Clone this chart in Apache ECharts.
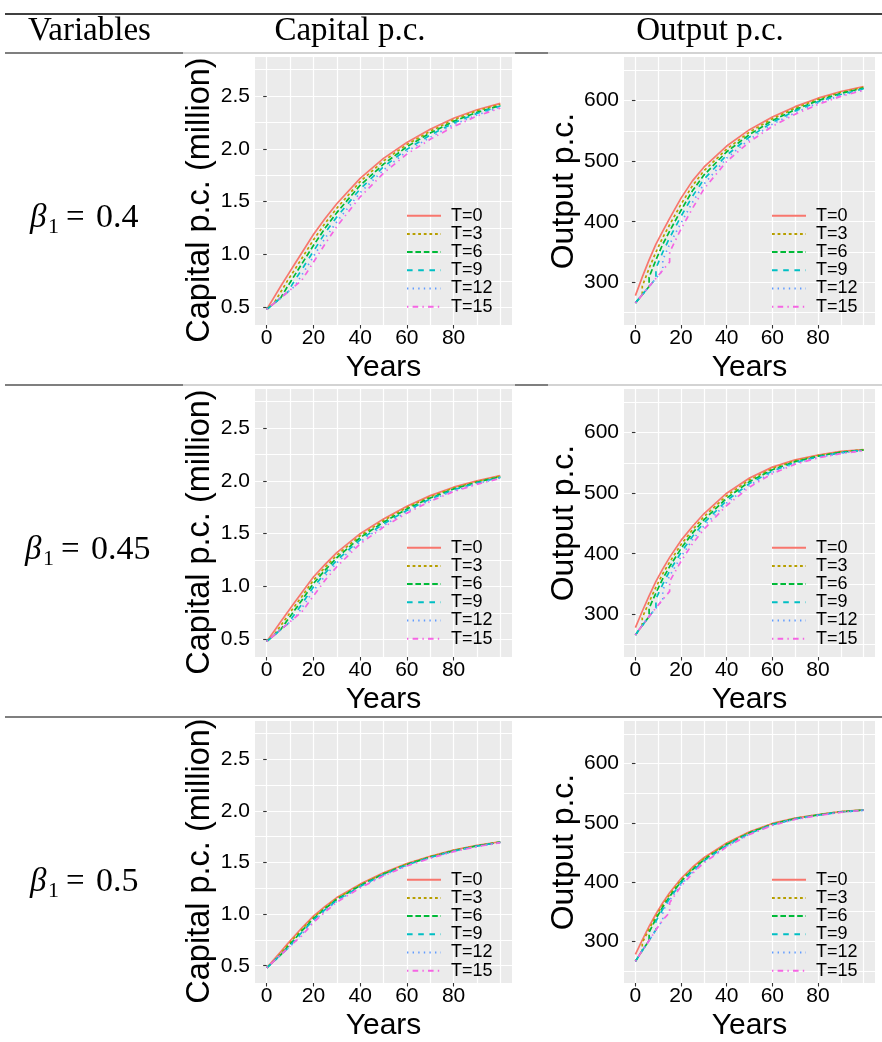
<!DOCTYPE html>
<html><head><meta charset="utf-8">
<script src="https://cdn.jsdelivr.net/npm/echarts@6/dist/echarts.min.js"></script>
<style>html,body{margin:0;padding:0;background:#fff}#c{width:882px;height:1042px}</style>
</head><body><div id="c"></div>
<script>
// ---------------- data ----------------
const YEARS = [0,3,6,9,12,15,20,25,30,40,50,60,70,80,90,100];
const T_LABELS = ['T=0','T=3','T=6','T=9','T=12','T=15'];
const T_VALUES = [0,3,6,9,12,15];
const ROW_LABELS = ['0.4','0.45','0.5'];
const HEADERS = ['Variables','Capital p.c.','Output p.c.'];

const X_LABELS = [0,20,40,60,80];
const X_GRID = [0,10,20,30,40,50,60,70,80,90,100];
const CAP_Y_LABELS = [0.5,1.0,1.5,2.0,2.5];
const CAP_Y_GRID = [0.5,0.75,1.0,1.25,1.5,1.75,2.0,2.25,2.5,2.75];
const OUT_Y_LABELS = [300,400,500,600];
const OUT_Y_GRID = [250,300,350,400,450,500,550,600,650];

// capital p.c. (million), beta1 = 0.4
const CAP_B040_T0  = [0.48,0.59,0.70,0.805,0.91,1.015,1.19,1.34,1.48,1.72,1.91,2.06,2.185,2.29,2.37,2.43];
const CAP_B040_T3  = [0.48,0.535,0.645,0.755,0.857,0.962,1.138,1.295,1.438,1.69,1.885,2.04,2.167,2.275,2.36,2.42];
const CAP_B040_T6  = [0.48,0.535,0.59,0.70,0.805,0.91,1.085,1.25,1.396,1.655,1.855,2.02,2.15,2.26,2.345,2.41];
const CAP_B040_T9  = [0.48,0.535,0.59,0.645,0.755,0.857,1.03,1.205,1.355,1.62,1.83,1.995,2.13,2.245,2.335,2.405];
const CAP_B040_T12 = [0.48,0.535,0.59,0.645,0.70,0.805,0.98,1.155,1.31,1.585,1.80,1.975,2.11,2.23,2.32,2.395];
const CAP_B040_T15 = [0.48,0.535,0.59,0.645,0.70,0.755,0.927,1.10,1.265,1.545,1.77,1.95,2.09,2.21,2.31,2.385];
// output p.c., beta1 = 0.4
const OUT_B040_T0  = [278,308.5,337,363,384.5,405.5,439,467.5,490,525,552,573,590,604,615,623];
const OUT_B040_T3  = [266,293.5,323,350,374,395,429,459.5,484,520,548,570,587.5,602,613.5,622];
const OUT_B040_T6  = [266,279.5,308.5,337,363,384.5,419,451,477,515.5,544,567,585,600,612,620.5];
const OUT_B040_T9  = [266,279.5,293,323,350,373.5,409,442,470,510,540,564,583,598,610,619.5];
const OUT_B040_T12 = [266,279.5,293,306.5,337,363,398,432,462,505,536,561,580,596,608.5,618];
const OUT_B040_T15 = [266,279.5,293,306.5,320,350,388,422,454,499.5,532,557.5,577.5,593.5,607,617];
const OUT_B040_PRE = [null,279.5,293,306.5,320,333.5]; // value just before the jump at year T

// beta1 = 0.45
const CAP_B045_T0  = [0.48,0.573,0.666,0.759,0.85,0.94,1.09,1.21,1.32,1.50,1.64,1.76,1.86,1.94,2.00,2.05];
const CAP_B045_T3  = [0.48,0.536,0.629,0.722,0.814,0.904,1.059,1.182,1.296,1.481,1.624,1.747,1.849,1.932,1.993,2.045];
const CAP_B045_T6  = [0.48,0.536,0.592,0.685,0.777,0.868,1.028,1.155,1.272,1.462,1.609,1.734,1.838,1.923,1.987,2.039];
const CAP_B045_T9  = [0.48,0.536,0.592,0.647,0.74,0.832,0.996,1.127,1.248,1.442,1.593,1.72,1.828,1.915,1.98,2.034];
const CAP_B045_T12 = [0.48,0.536,0.592,0.647,0.703,0.796,0.96,1.10,1.224,1.423,1.578,1.707,1.817,1.906,1.974,2.028];
const CAP_B045_T15 = [0.48,0.536,0.592,0.647,0.703,0.759,0.91,1.06,1.187,1.404,1.562,1.694,1.806,1.898,1.967,2.023];
const OUT_B045_T0  = [278,305,330.3,354.3,375,394,422,445,466,500,525,543,555,563,569,572];
const OUT_B045_T3  = [266,294.4,320.3,344.9,367.1,386.3,415.3,439.5,461,495.9,522,540.8,553.6,562,568.3,571.6];
const OUT_B045_T6  = [266,281.5,310.1,335.2,358.9,378.8,408.6,434,455.9,491.8,519,538.7,552.1,561.1,567.6,571.3];
const OUT_B045_T9  = [266,281.5,296.3,325.4,349.7,371.8,402.1,428.4,450.9,487.8,516,536.5,550.7,560.1,566.8,570.9];
const OUT_B045_T12 = [266,281.5,296.3,310.7,340.1,363.3,395.1,422.9,445.8,483.7,513,534.4,549.2,559.2,566.1,570.6];
const OUT_B045_T15 = [266,281.5,296.3,310.7,324.5,354.3,387.6,416.4,440.4,479.6,510,532.2,547.8,558.2,565.4,570.2];
const OUT_B045_PRE = [null,281.5,296.3,310.7,324.5,337.8];

// beta1 = 0.5
const CAP_B050_T0  = [0.48,0.558,0.636,0.714,0.79,0.865,0.98,1.075,1.16,1.29,1.40,1.49,1.56,1.62,1.665,1.70];
const CAP_B050_T3  = [0.48,0.542,0.62,0.698,0.775,0.851,0.967,1.064,1.151,1.283,1.394,1.485,1.556,1.617,1.663,1.698];
const CAP_B050_T6  = [0.48,0.542,0.605,0.683,0.759,0.836,0.955,1.053,1.142,1.276,1.388,1.48,1.552,1.613,1.66,1.696];
const CAP_B050_T9  = [0.48,0.542,0.605,0.667,0.745,0.822,0.942,1.043,1.133,1.268,1.382,1.476,1.548,1.61,1.658,1.695];
const CAP_B050_T12 = [0.48,0.542,0.605,0.667,0.73,0.805,0.93,1.032,1.124,1.261,1.376,1.471,1.544,1.607,1.655,1.693];
const CAP_B050_T15 = [0.48,0.542,0.605,0.667,0.73,0.79,0.917,1.021,1.115,1.254,1.37,1.466,1.54,1.604,1.653,1.691];
const OUT_B050_T0  = [278,302,325,346,365,382,406,425,441,466,485,499,508,514,519,522];
const OUT_B050_T3  = [266,297.2,320.6,342,361.4,378.8,403.4,422.9,439.3,464.7,484,498.3,507.5,513.7,518.8,521.8];
const OUT_B050_T6  = [266,284.3,315,338,357.8,375.6,400.8,420.8,437.5,463.4,483.1,497.7,507.1,513.3,518.5,521.6];
const OUT_B050_T9  = [266,284.3,301.2,334,354.2,372.5,398.3,418.7,435.8,462,482.1,497,506.6,513,518.3,521.5];
const OUT_B050_T12 = [266,284.3,301.2,319.3,351.5,369.3,395.7,416.6,434,460.7,481.2,496.4,506.2,512.7,518,521.3];
const OUT_B050_T15 = [266,284.3,301.2,319.3,335.9,365,393.1,414.5,432.3,459.4,480.2,495.7,505.7,512.4,517.8,521.1];
const OUT_B050_PRE = [null,284.3,301.2,319.3,335.9,348.5];

// ---------------- layout / style ----------------
const ROWS = [
  {cap:[CAP_B040_T0,CAP_B040_T3,CAP_B040_T6,CAP_B040_T9,CAP_B040_T12,CAP_B040_T15],
   out:[OUT_B040_T0,OUT_B040_T3,OUT_B040_T6,OUT_B040_T9,OUT_B040_T12,OUT_B040_T15], pre:OUT_B040_PRE},
  {cap:[CAP_B045_T0,CAP_B045_T3,CAP_B045_T6,CAP_B045_T9,CAP_B045_T12,CAP_B045_T15],
   out:[OUT_B045_T0,OUT_B045_T3,OUT_B045_T6,OUT_B045_T9,OUT_B045_T12,OUT_B045_T15], pre:OUT_B045_PRE},
  {cap:[CAP_B050_T0,CAP_B050_T3,CAP_B050_T6,CAP_B050_T9,CAP_B050_T12,CAP_B050_T15],
   out:[OUT_B050_T0,OUT_B050_T3,OUT_B050_T6,OUT_B050_T9,OUT_B050_T12,OUT_B050_T15], pre:OUT_B050_PRE}
];
const COLORS = ['#F8766D','#B79F00','#00BA38','#00BFC4','#619CFF','#F564E3'];
const DASHES = ['solid',[2.8,2.8],[5.6,2.8],[5.6,5.6],[1.4,4.2],[1.4,4.2,5.6,4.2]];
const TOP0 = 57, STEP = 332, PH = 268;
const PANELS = [
  {left:255, width:257, min:0.333, max:2.869, labels:CAP_Y_LABELS, grid:CAP_Y_GRID, title:'Capital p.c. (million)', fmt:v=>v.toFixed(1), legendLeft:406, titleSize:32.5, titleGap:33, titlePad:[0,18,0,0]},
  {left:624, width:251, min:229.5, max:672, labels:OUT_Y_LABELS, grid:OUT_Y_GRID, title:'Output p.c.', fmt:v=>String(v), legendLeft:771, titleSize:32, titleGap:34, titlePad:[0,0,0,0]}
];
const SANS = 'Liberation Sans';

const grids=[], xAxes=[], yAxes=[], series=[], legends=[];
ROWS.forEach((row, r) => {
  PANELS.forEach((p, c) => {
    const g = grids.length;
    const top = TOP0 + r*STEP;
    grids.push({left:p.left, top:top, width:p.width, height:PH, show:true, backgroundColor:'#EBEBEB', borderWidth:0});
    xAxes.push({gridIndex:g, type:'value', min:-5, max:105, position:'bottom',
      axisLine:{show:false},
      axisTick:{show:true, length:3.5, customValues:X_LABELS, lineStyle:{color:'#333', width:1.1}},
      axisLabel:{customValues:X_LABELS, fontSize:21, color:'#000', fontFamily:SANS, margin:3},
      splitLine:{show:false},
      name:'Years', nameLocation:'middle', nameGap:28,
      nameTextStyle:{fontSize:30, color:'#000', fontFamily:SANS}});
    xAxes.push({gridIndex:g, type:'value', min:-5, max:105, position:'top',
      axisLine:{show:false}, axisLabel:{show:false},
      axisTick:{show:false, customValues:X_GRID},
      splitLine:{show:true, lineStyle:{color:'#FFFFFF', width:1.2}}});
    yAxes.push({gridIndex:g, type:'value', min:p.min, max:p.max, position:'left',
      axisLine:{show:false},
      axisTick:{show:true, length:3.5, customValues:p.labels, lineStyle:{color:'#333', width:1.1}},
      axisLabel:{customValues:p.labels, fontSize:21, color:'#000', fontFamily:SANS, margin:5, formatter:p.fmt},
      splitLine:{show:false},
      name:p.title, nameLocation:'middle', nameRotate:90, nameGap:p.titleGap,
      nameTextStyle:{fontSize:p.titleSize, color:'#000', fontFamily:SANS, padding:p.titlePad}});
    yAxes.push({gridIndex:g, type:'value', min:p.min, max:p.max, position:'right',
      axisLine:{show:false}, axisLabel:{show:false},
      axisTick:{show:false, customValues:p.grid},
      splitLine:{show:true, lineStyle:{color:'#FFFFFF', width:1.2}}});
    const vals = c === 0 ? row.cap : row.out;
    vals.forEach((arr, j) => {
      const T = T_VALUES[j];
      const data = [];
      YEARS.forEach((yr, i) => {
        if (c === 1 && T > 0 && yr === T) data.push([yr, row.pre[j]]);
        data.push([yr, arr[i]]);
      });
      series.push({type:'line', name:T_LABELS[j], xAxisIndex:2*g, yAxisIndex:2*g,
        data:data, symbol:'none', showSymbol:false, smooth:false, clip:true,
        lineStyle:{color:COLORS[j], width:1.7, type:DASHES[j]},
        itemStyle:{color:COLORS[j]}, z:2+j*0.01, silent:true});
    });
    legends.push({orient:'vertical', left:p.legendLeft, top:top+149.7, itemWidth:34, itemHeight:18, itemGap:0.2,
      data:T_LABELS, selectedMode:false, padding:0,
      itemStyle:{color:'rgba(0,0,0,0)', borderWidth:0, opacity:0},
      textStyle:{fontSize:18, color:'#000', fontFamily:SANS, padding:[0,0,0,5]}});
  });
});

// table rules and texts
const graphics = [];
function hline(y, x1, x2, color, w) {
  graphics.push({type:'line', shape:{x1:x1, y1:y, x2:x2, y2:y}, style:{stroke:color, lineWidth:w}, z:10});
}
hline(14, 5, 882, '#000', 1.3);
[53, 385].forEach(y => {
  hline(y, 5, 183, '#000', 1.2);
  hline(y, 183, 515, '#A8A8A8', 1.2);
  hline(y, 515, 548, '#000', 1.2);
  hline(y, 548, 882, '#A8A8A8', 1.2);
});
hline(717, 5, 882, '#000', 1.2);
[[89.5,HEADERS[0]],[350,HEADERS[1]],[710,HEADERS[2]]].forEach(([x,t]) => {
  graphics.push({type:'text', x:x, y:31, z:10, style:{text:t, fill:'#000', font:'33px "Liberation Serif"', textAlign:'center', textVerticalAlign:'middle'}});
});
ROW_LABELS.forEach((lab, r) => {
  const cy = 218 + r*STEP;
  const x0 = lab.length > 3 ? 25 : 30;
  graphics.push({type:'text', x:x0, y:cy, z:10, style:{text:'β', fill:'#000', font:'italic 33px "Liberation Serif"', textAlign:'left', textVerticalAlign:'middle'}});
  graphics.push({type:'text', x:x0+18, y:cy+9, z:10, style:{text:'1', fill:'#000', font:'22px "Liberation Serif"', textAlign:'left', textVerticalAlign:'middle'}});
  graphics.push({type:'text', x:x0+36, y:cy, z:10, style:{text:'=', fill:'#000', font:'33px "Liberation Serif"', textAlign:'left', textVerticalAlign:'middle'}});
  graphics.push({type:'text', x:x0+66, y:cy, z:10, style:{text:lab, fill:'#000', font:'34px "Liberation Serif"', textAlign:'left', textVerticalAlign:'middle'}});
});

const chart = echarts.init(document.getElementById('c'), null, {renderer:'canvas'});
chart.setOption({
  animation:false,
  backgroundColor:'#FFFFFF',
  textStyle:{fontFamily:SANS},
  grid:grids, xAxis:xAxes, yAxis:yAxes, series:series, legend:legends,
  graphic:graphics
});
</script></body></html>
